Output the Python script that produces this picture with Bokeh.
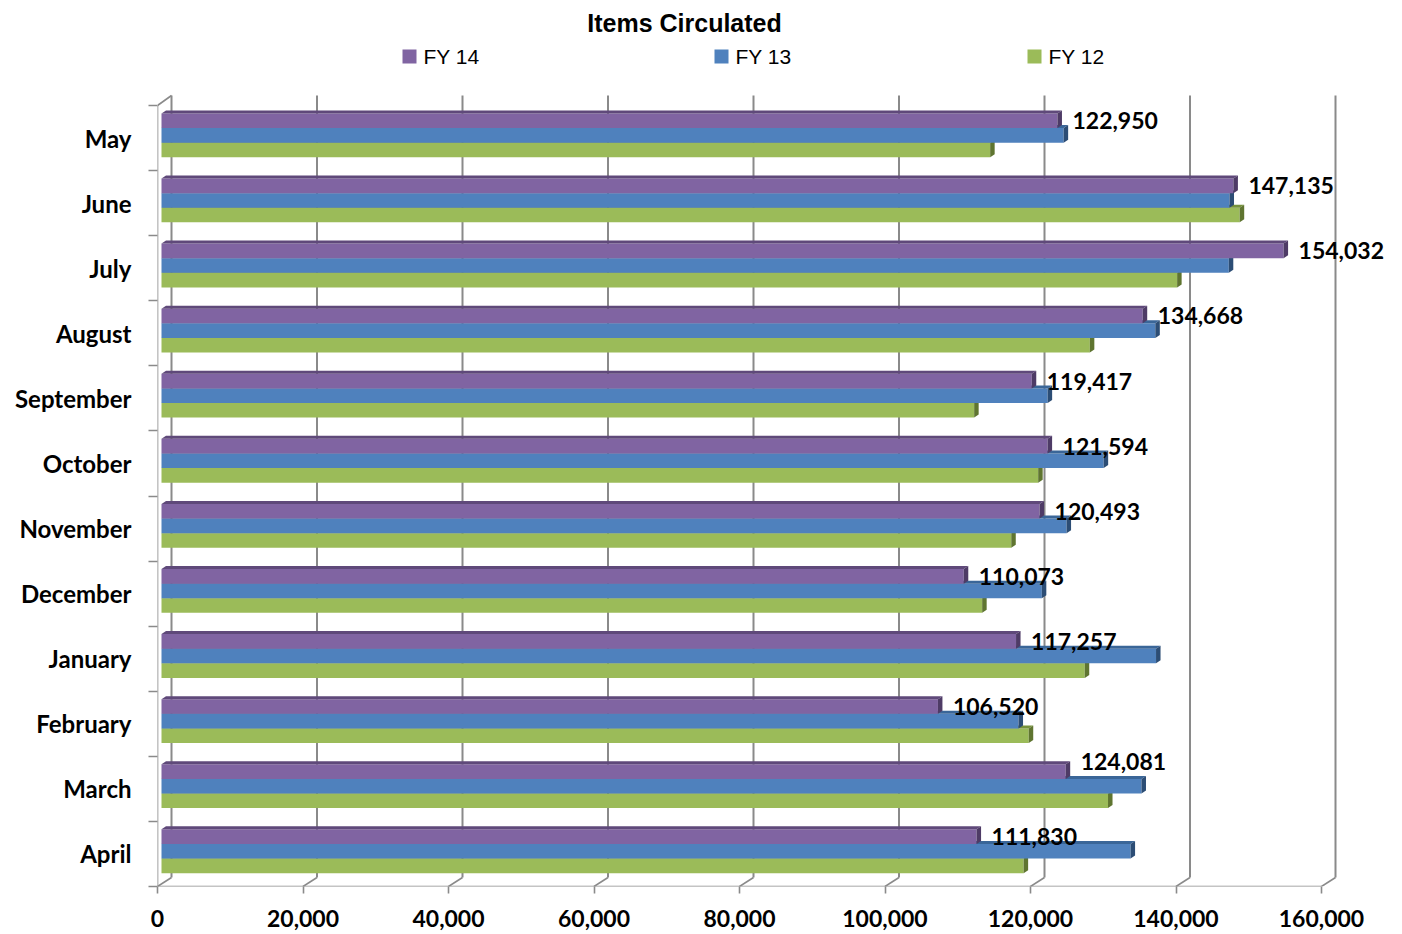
from bokeh.plotting import figure
from bokeh.models import FixedTicker, NumeralTickFormatter, Range1d
from bokeh.embed import file_html
from bokeh.resources import INLINE
from bokeh.core.properties import value

# ---- data -----------------------------------------------------------------
months = ["May", "June", "July", "August", "September", "October",
          "November", "December", "January", "February", "March", "April"]
series = ["FY 14", "FY 13", "FY 12"]
fy14 = [122950, 147135, 154032, 134668, 119417, 121594,
        120493, 110073, 117257, 106520, 124081, 111830]
fy13 = [123800, 146600, 146500, 136400, 121600, 129300,
        124200, 120800, 136500, 117600, 134500, 133000]
fy12 = [113700, 148000, 139400, 127400, 111500, 120300,
        116600, 112600, 126700, 119000, 129900, 118300]
x_ticks = [0, 20000, 40000, 60000, 80000, 100000, 120000, 140000, 160000]

# ---- geometry ---------------------------------------------------------------
W, H = 1402, 934
LEFT, BOTTOM = 157, 48
n = len(months)
XPX = 160000 / 1164.0          # data units per pixel, x
YPX = n / 781.0                # data units per pixel, y
Y0 = 0.5                       # floor (front edge)
x_end = (W - LEFT) * XPX
y_end = Y0 + (H - BOTTOM) * YPX

DX, DY = 14 * XPX, 9 * YPX     # depth of the walls
GRID = "#8a8a8a"
FONT = "Lato"

p = figure(width=W, height=H, x_range=Range1d(0, x_end), y_range=Range1d(Y0, y_end),
           output_backend="svg", toolbar_location=None,
           min_border_left=LEFT, min_border_bottom=BOTTOM,
           min_border_top=0, min_border_right=0)
p.outline_line_color = None
p.grid.visible = False
p.background_fill_color = "white"
p.border_fill_color = "white"

# ---- walls and floor --------------------------------------------------------
top_y = Y0 + n + 10 * YPX
p.segment(x0=[t + DX for t in x_ticks], y0=[Y0 + DY] * len(x_ticks),
          x1=[t + DX for t in x_ticks], y1=[top_y] * len(x_ticks),
          line_color=GRID, line_width=2)
p.segment(x0=x_ticks, y0=[Y0] * len(x_ticks),
          x1=[t + DX for t in x_ticks], y1=[Y0 + DY] * len(x_ticks),
          line_color=GRID, line_width=1.6)
p.segment(x0=[0, 0, 0], y0=[Y0, Y0, Y0 + n],
          x1=[x_ticks[-1], 0, DX], y1=[Y0, Y0 + n, top_y],
          line_color=GRID, line_width=1.6)

# ---- 3D bars ------------------------------------------------------------------
bh = 14.6 * YPX               # bar thickness
bx, by = 5.5 * XPX, 2.7 * YPX # bar front-face shift into the depth
ddx, ddy = 4.5 * XPX, 3 * YPX # bar depth
faces = ["#8064A2", "#4F81BD", "#9BBB59"]
tops = ["#5F497A", "#3A6698", "#76923C"]
sides = ["#4E3B66", "#2C4D75", "#5F7530"]
values = [fy14, fy13, fy12]

for k in (2, 1, 0):
    vals = values[k]
    centers = [Y0 + n - i - 0.5 + (1 - k) * bh + by for i in range(n)]
    lefts = [bx - 1.5 * XPX] * n
    rights = [v + bx for v in vals]
    bots = [c - bh / 2 for c in centers]
    tps = [c + bh / 2 for c in centers]
    p.quad(left=lefts, right=rights, bottom=bots, top=tps,
           fill_color=faces[k], line_color=None)
    p.patches(xs=[[l, r, r + ddx, l + ddx] for l, r in zip(lefts, rights)],
              ys=[[t, t, t + ddy, t + ddy] for t in tps],
              fill_color=tops[k], line_color=None)
    p.patches(xs=[[r, r + ddx, r + ddx, r] for r in rights],
              ys=[[b, b + ddy, t + ddy, t] for b, t in zip(bots, tps)],
              fill_color=sides[k], line_color=None)

# value labels for FY 14 (the March label sits a little higher)
label_lift_px = {"March": 10}
p.text(x=[v + bx + 15 * XPX for v in fy14],
       y=[Y0 + n - i - 0.5 + bh + by + label_lift_px.get(m, 0) * YPX
          for i, m in enumerate(months)],
       text=[f"{v:,}" for v in fy14],
       text_font=value(FONT), text_font_style="bold", text_font_size="23px",
       text_color="black", text_baseline="middle", text_align="left")

# ---- title and legend -----------------------------------------------------------
def px_x(px):
    return (px - LEFT) * XPX

def px_y(py):
    return Y0 + (H - BOTTOM - py) * YPX

TITLE_FONT = "Liberation Sans"
p.text(x=[px_x(684)], y=[px_y(22)], text=["Items Circulated"],
       text_font=value(TITLE_FONT), text_font_style="bold", text_font_size="25px",
       text_color="black", text_baseline="middle", text_align="center")
leg_x = [402, 714, 1027]
p.scatter(x=[px_x(x + 7) for x in leg_x], y=[px_y(56)] * 3, marker="square",
          size=14, fill_color=faces, line_color=None)
p.text(x=[px_x(x + 21) for x in leg_x], y=[px_y(55.5)] * 3, text=series,
       text_font=value(TITLE_FONT), text_font_size="21px", text_color="black",
       text_baseline="middle", text_align="left")

# ---- axes --------------------------------------------------------------------------
xa = p.xaxis[0]
xa.ticker = FixedTicker(ticks=x_ticks)
xa.formatter = NumeralTickFormatter(format="0,0")
xa.axis_line_color = None
xa.major_tick_out = 7
xa.major_tick_in = 0
xa.minor_tick_out = 0
xa.minor_tick_in = 0
xa.major_tick_line_color = GRID
xa.major_tick_line_width = 1.6
xa.major_label_standoff = 16
xa.major_label_text_font = FONT
xa.major_label_text_font_style = "bold"
xa.major_label_text_font_size = "23px"
xa.major_label_text_color = "black"

ya = p.yaxis[0]
centers_y = [n - i for i in range(n)]
ya.ticker = FixedTicker(ticks=centers_y, minor_ticks=[k + 0.5 for k in range(n + 1)])
ya.major_label_overrides = {c: m for c, m in zip(centers_y, months)}
ya.axis_line_color = None
ya.major_tick_out = 0
ya.major_tick_in = 0
ya.minor_tick_out = 9
ya.minor_tick_in = 0
ya.minor_tick_line_color = GRID
ya.minor_tick_line_width = 1.6
ya.major_label_standoff = 17
ya.major_label_text_font = FONT
ya.major_label_text_font_style = "bold"
ya.major_label_text_font_size = "24px"
ya.major_label_text_color = "black"

open("out.html", "w").write(file_html(p, INLINE))
